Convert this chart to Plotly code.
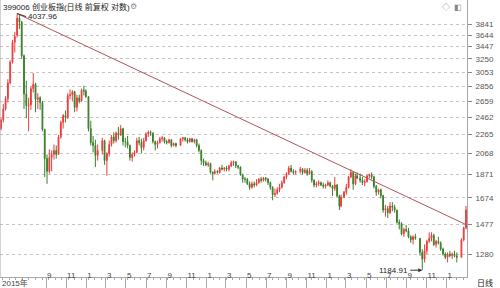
import math
import plotly.graph_objects as go

# ---------------- data (weekly candles) ----------------
dates = [
    "2015-04-17", "2015-04-24",
    "2015-05-01", "2015-05-08", "2015-05-15", "2015-05-22", "2015-05-29",
    "2015-06-05", "2015-06-12", "2015-06-19", "2015-06-26",
    "2015-07-03", "2015-07-10", "2015-07-17", "2015-07-24", "2015-07-31",
    "2015-08-07", "2015-08-14", "2015-08-21", "2015-08-28",
    "2015-09-04", "2015-09-11", "2015-09-18", "2015-09-25",
    "2015-10-02", "2015-10-09", "2015-10-16", "2015-10-23", "2015-10-30",
    "2015-11-06", "2015-11-13", "2015-11-20", "2015-11-27",
    "2015-12-04", "2015-12-11", "2015-12-18", "2015-12-25", "2015-12-31",
    "2016-01-08", "2016-01-15", "2016-01-22", "2016-01-29",
    "2016-02-05", "2016-02-19", "2016-02-26",
    "2016-03-04", "2016-03-11", "2016-03-18", "2016-03-25",
    "2016-04-01", "2016-04-08", "2016-04-15", "2016-04-22", "2016-04-29",
    "2016-05-06", "2016-05-13", "2016-05-20", "2016-05-27",
    "2016-06-03", "2016-06-10", "2016-06-17", "2016-06-24",
    "2016-07-01", "2016-07-08", "2016-07-15", "2016-07-22", "2016-07-29",
    "2016-08-05", "2016-08-12", "2016-08-19", "2016-08-26",
    "2016-09-02", "2016-09-09", "2016-09-16", "2016-09-23", "2016-09-30",
    "2016-10-14", "2016-10-21", "2016-10-28",
    "2016-11-04", "2016-11-11", "2016-11-18", "2016-11-25",
    "2016-12-02", "2016-12-09", "2016-12-16", "2016-12-23", "2016-12-30",
    "2017-01-06", "2017-01-13", "2017-01-20", "2017-01-26",
    "2017-02-03", "2017-02-10", "2017-02-17", "2017-02-24",
    "2017-03-03", "2017-03-10", "2017-03-17", "2017-03-24", "2017-03-31",
    "2017-04-07", "2017-04-14", "2017-04-21", "2017-04-28",
    "2017-05-05", "2017-05-12", "2017-05-19", "2017-05-26",
    "2017-06-02", "2017-06-09", "2017-06-16", "2017-06-23", "2017-06-30",
    "2017-07-07", "2017-07-14", "2017-07-21", "2017-07-28",
    "2017-08-04", "2017-08-11", "2017-08-18", "2017-08-25",
    "2017-09-01", "2017-09-08", "2017-09-15", "2017-09-22", "2017-09-29",
    "2017-10-13", "2017-10-20", "2017-10-27",
    "2017-11-03", "2017-11-10", "2017-11-17", "2017-11-24",
    "2017-12-01", "2017-12-08", "2017-12-15", "2017-12-22", "2017-12-29",
    "2018-01-05", "2018-01-12", "2018-01-19", "2018-01-26",
    "2018-02-02", "2018-02-09", "2018-02-14", "2018-02-23",
    "2018-03-02", "2018-03-09", "2018-03-16", "2018-03-23", "2018-03-30",
    "2018-04-04", "2018-04-13", "2018-04-20", "2018-04-27",
    "2018-05-04", "2018-05-11", "2018-05-18", "2018-05-25",
    "2018-06-01", "2018-06-08", "2018-06-15", "2018-06-22", "2018-06-29",
    "2018-07-06", "2018-07-13", "2018-07-20", "2018-07-27",
    "2018-08-03", "2018-08-10", "2018-08-17", "2018-08-24", "2018-08-31",
    "2018-09-07", "2018-09-14", "2018-09-21", "2018-09-28",
    "2018-10-12", "2018-10-19", "2018-10-26",
    "2018-11-02", "2018-11-09", "2018-11-16", "2018-11-23", "2018-11-30",
    "2018-12-07", "2018-12-14", "2018-12-21", "2018-12-28",
    "2019-01-04", "2019-01-11", "2019-01-18", "2019-01-25",
    "2019-02-01", "2019-02-15", "2019-02-22", "2019-03-01",
]

opens = [
    2330, 2430,
    2560, 2690, 2900, 3200, 3520,
    3640, 3950, 3880, 3300,
    2750, 2600, 2610, 2820, 2880,
    2680, 2700, 2640, 2320,
    2020, 1900, 2030, 2060,
    2100, 2060, 2240, 2400, 2480,
    2460, 2730, 2740, 2780,
    2580, 2700, 2660, 2800, 2790,
    2714, 2330, 2180, 2150,
    2050, 2100, 2200,
    2000, 2070, 2160, 2240,
    2200, 2280, 2260, 2330, 2190,
    2190, 2150, 2030, 2060,
    2080, 2200, 2180, 2130,
    2200, 2270, 2290, 2280, 2190,
    2160, 2180, 2220, 2230,
    2190, 2180, 2210, 2150, 2170,
    2150, 2220, 2230,
    2210, 2190, 2220, 2190,
    2210, 2150, 2100, 2000, 1980,
    1960, 1970, 1890, 1880,
    1900, 1890, 1930, 1920,
    1930, 1920, 1950, 1980, 1990,
    1950, 1940, 1870, 1830,
    1830, 1790, 1760, 1790,
    1780, 1800, 1830, 1820, 1840,
    1830, 1800, 1760, 1700,
    1710, 1740, 1760, 1800,
    1850, 1880, 1930, 1900, 1890,
    1900, 1920, 1890,
    1910, 1880, 1900, 1820,
    1780, 1790, 1800, 1780, 1770,
    1780, 1800, 1770, 1750,
    1780, 1690, 1610, 1680,
    1720, 1760, 1850, 1890, 1790,
    1860, 1840, 1820, 1800,
    1810, 1860, 1870, 1850,
    1770, 1720, 1740, 1690, 1580,
    1590, 1560, 1610, 1600,
    1580, 1490, 1480, 1410, 1440,
    1430, 1390, 1370, 1390,
    1380, 1290, 1250,
    1300, 1360, 1380, 1400, 1340,
    1360, 1350, 1310, 1280,
    1260, 1280, 1270, 1280,
    1270, 1260, 1370, 1450,
]

highs = [
    2450, 2620,
    2720, 2950, 3230, 3560, 3700,
    4037.96, 4010, 3900, 3320,
    2930, 2700, 2850, 3040, 2900,
    2760, 2720, 2660, 2330,
    2060, 2110, 2100, 2160,
    2150, 2260, 2420, 2500, 2540,
    2760, 2810, 2800, 2790,
    2740, 2740, 2820, 2860, 2810,
    2720, 2420, 2250, 2210,
    2160, 2230, 2210,
    2080, 2200, 2260, 2290,
    2300, 2350, 2370, 2340, 2230,
    2250, 2160, 2080, 2100,
    2230, 2240, 2220, 2230,
    2290, 2310, 2310, 2290, 2200,
    2200, 2240, 2250, 2240,
    2210, 2220, 2210, 2180, 2180,
    2230, 2240, 2240,
    2230, 2230, 2230, 2220,
    2220, 2170, 2110, 2020, 2000,
    1990, 1980, 1900, 1920,
    1910, 1940, 1960, 1940,
    1950, 1960, 2000, 2000, 1995,
    1960, 1945, 1880, 1850,
    1840, 1810, 1810, 1810,
    1830, 1840, 1850, 1850, 1850,
    1840, 1810, 1770, 1750,
    1760, 1790, 1820, 1860,
    1890, 1950, 1960, 1920, 1910,
    1940, 1930, 1930,
    1930, 1930, 1910, 1830,
    1810, 1820, 1810, 1800, 1790,
    1820, 1810, 1780, 1850,
    1790, 1700, 1700, 1730,
    1790, 1860, 1920, 1900, 1880,
    1890, 1880, 1850, 1830,
    1870, 1880, 1890, 1860,
    1780, 1750, 1750, 1700, 1620,
    1610, 1640, 1640, 1620,
    1580, 1510, 1490, 1450, 1470,
    1450, 1400, 1400, 1410,
    1380, 1310, 1340,
    1370, 1420, 1420, 1410, 1370,
    1390, 1360, 1320, 1290,
    1290, 1300, 1290, 1300,
    1290, 1380, 1460, 1610,
]

lows = [
    2310, 2400,
    2540, 2640, 2880, 3180, 3350,
    3600, 3750, 3250, 2560,
    2450, 2300, 2550, 2770, 2520,
    2560, 2550, 2300, 1850,
    1790, 1880, 1900, 2010,
    2020, 2060, 2220, 2330, 2400,
    2440, 2680, 2660, 2520,
    2530, 2630, 2650, 2730, 2700,
    2300, 2150, 2080, 1940,
    2000, 2060, 1960,
    1860, 2040, 2140, 2170,
    2180, 2210, 2250, 2150, 2130,
    2120, 2000, 1990, 2040,
    2070, 2150, 2070, 2100,
    2190, 2240, 2250, 2170, 2100,
    2120, 2170, 2190, 2170,
    2160, 2170, 2130, 2140, 2130,
    2150, 2190, 2190,
    2170, 2180, 2180, 2170,
    2130, 2080, 1960, 1950, 1950,
    1940, 1880, 1820, 1870,
    1880, 1880, 1910, 1900,
    1900, 1900, 1940, 1950, 1930,
    1920, 1860, 1800, 1800,
    1780, 1740, 1750, 1760,
    1770, 1790, 1800, 1810, 1810,
    1780, 1740, 1655, 1680,
    1700, 1720, 1750, 1790,
    1830, 1870, 1890, 1870, 1870,
    1880, 1870, 1880,
    1860, 1870, 1800, 1760,
    1760, 1770, 1770, 1750, 1750,
    1770, 1760, 1690, 1730,
    1680, 1580, 1600, 1670,
    1700, 1750, 1840, 1740, 1780,
    1830, 1800, 1780, 1770,
    1800, 1840, 1830, 1750,
    1690, 1700, 1670, 1560, 1530,
    1520, 1550, 1570, 1560,
    1480, 1440, 1400, 1390, 1420,
    1380, 1350, 1340, 1370,
    1270, 1184.91, 1230,
    1280, 1350, 1360, 1330, 1320,
    1340, 1300, 1270, 1250,
    1230, 1260, 1250, 1260,
    1230, 1260, 1360, 1440,
]

closes = [
    2430, 2560,
    2690, 2900, 3200, 3520, 3620,
    3950, 3880, 3300, 2750,
    2600, 2610, 2820, 2880, 2680,
    2700, 2640, 2320, 2020,
    1900, 2030, 2060, 2100,
    2060, 2240, 2400, 2480, 2460,
    2730, 2740, 2780, 2580,
    2700, 2660, 2800, 2790, 2714,
    2330, 2180, 2150, 2050,
    2100, 2200, 2000,
    2070, 2160, 2240, 2200,
    2280, 2260, 2330, 2190, 2190,
    2150, 2030, 2060, 2080,
    2200, 2180, 2130, 2200,
    2270, 2290, 2280, 2190, 2160,
    2180, 2220, 2230, 2190,
    2180, 2210, 2150, 2170, 2150,
    2220, 2230, 2210,
    2190, 2220, 2190, 2210,
    2150, 2100, 2000, 1980, 1960,
    1970, 1890, 1880, 1900,
    1890, 1930, 1920, 1930,
    1920, 1950, 1980, 1990, 1950,
    1940, 1870, 1830, 1830,
    1790, 1760, 1790, 1780,
    1800, 1830, 1820, 1840, 1830,
    1800, 1760, 1700, 1710,
    1740, 1760, 1800, 1850,
    1880, 1930, 1900, 1890, 1900,
    1920, 1890, 1910,
    1880, 1900, 1820, 1780,
    1790, 1800, 1780, 1770, 1780,
    1800, 1770, 1750, 1780,
    1690, 1610, 1680, 1720,
    1760, 1850, 1890, 1790, 1860,
    1840, 1820, 1800, 1810,
    1860, 1870, 1850, 1770,
    1720, 1740, 1690, 1580, 1590,
    1560, 1610, 1600, 1580,
    1490, 1480, 1410, 1440, 1430,
    1390, 1370, 1390, 1380,
    1290, 1250, 1300,
    1360, 1380, 1400, 1340, 1360,
    1350, 1310, 1280, 1260,
    1280, 1270, 1280, 1270,
    1260, 1370, 1450, 1580,
]

# trend line drawn from the 2015 high to the right edge
trend_dates = ["2015-06-05", "2019-03-04"]
trend_values = [4037.96, 1470]

peak_date, peak_value = "2015-06-05", 4037.96
low_date, low_value = "2018-10-19", 1184.91

y_ticks = [1280, 1477, 1674, 1871, 2068, 2265, 2462, 2659, 2856, 3053, 3250, 3447, 3644, 3841]
x_tick_dates = [
    "2015-09-01", "2015-11-01",
    "2016-01-01", "2016-03-01", "2016-05-01", "2016-07-01", "2016-09-01", "2016-11-01",
    "2017-01-01", "2017-03-01", "2017-05-01", "2017-07-01", "2017-09-01", "2017-11-01",
    "2018-01-01", "2018-03-01", "2018-05-01", "2018-07-01", "2018-09-01", "2018-11-01",
    "2019-01-01",
]
x_tick_labels = ["9", "11", "1", "3", "5", "7", "9", "11", "1", "3", "5", "7", "9", "11",
                 "1", "3", "5", "7", "9", "11", "1"]

title_text = "399006 创业板指(日线 前复权 对数)"
first_label = "2015年"
period_label = "日线"

assert len(dates) == len(opens) == len(highs) == len(lows) == len(closes), (
    len(dates), len(opens), len(highs), len(lows), len(closes))

# ---------------- styling ----------------
UP = "#ee3b3b"
DOWN = "#3a7f2a"
AXIS = "#a8a8a8"
FONT = "Liberation Sans, Arial, Noto Sans CJK SC, sans-serif"

fig = go.Figure()
fig.add_trace(go.Candlestick(
    x=dates, open=opens, high=highs, low=lows, close=closes,
    increasing=dict(line=dict(color=UP, width=1), fillcolor=UP),
    decreasing=dict(line=dict(color=DOWN, width=1), fillcolor=DOWN),
    whiskerwidth=0, showlegend=False, hoverinfo="skip",
))
fig.add_trace(go.Scatter(
    x=trend_dates, y=trend_values, mode="lines",
    line=dict(color="#b0545a", width=1), showlegend=False, hoverinfo="skip",
))

fig.update_layout(
    width=500, height=288,
    margin=dict(l=0, r=33, t=0, b=11),
    paper_bgcolor="white", plot_bgcolor="white",
    font=dict(family=FONT, size=8, color="#444"),
    showlegend=False,
)

fig.update_xaxes(
    type="date", range=["2015-04-14", "2019-03-04"],
    rangeslider=dict(visible=False),
    showline=True, linecolor=AXIS, linewidth=1,
    showgrid=False, zeroline=False,
    tickmode="array", tickvals=x_tick_dates, ticktext=x_tick_labels,
    ticks="outside", ticklen=10, tickcolor=AXIS,
    ticklabelposition="outside right", ticklabelstandoff=-10,
    tickfont=dict(size=8, color="#444"),
    minor=dict(ticks="outside", ticklen=2, tickcolor=AXIS,
               dtick=20 * 86400000, tick0="2015-04-22"),
    automargin=False, fixedrange=True,
)

fig.update_yaxes(
    type="log", side="right",
    range=[math.log10(1147), math.log10(4308)],
    tickmode="array", tickvals=y_ticks, ticktext=[str(v) for v in y_ticks],
    ticks="outside", ticklen=4, tickcolor="#888",
    showline=True, linecolor=AXIS, linewidth=1,
    showgrid=True, gridcolor="#c4c4c4", griddash="dot", gridwidth=1,
    zeroline=False, tickfont=dict(size=8, color="#555"),
    ticklabelstandoff=2,
    automargin=False, fixedrange=True,
)

# left frame line
fig.add_shape(type="line", xref="paper", yref="paper", x0=0, x1=0, y0=0, y1=1,
              line=dict(color=AXIS, width=1))

fig.add_annotation(xref="paper", yref="paper", x=0, y=1, xanchor="left", yanchor="top",
                   text=title_text, showarrow=False, xshift=1, yshift=0,
                   font=dict(size=8, color="#222"))
fig.add_annotation(xref="paper", yref="paper", x=128 / 467, y=1, xanchor="left", yanchor="top",
                   text="⚙", showarrow=False, font=dict(size=8, color="#888"))
fig.add_annotation(xref="paper", yref="paper", x=1, y=1, xanchor="right", yanchor="top",
                   text="◇  ◧", showarrow=False, xshift=-3, yshift=-1,
                   font=dict(size=8, color="#888"))
fig.add_annotation(xref="paper", yref="paper", x=0, y=0, xanchor="left", yanchor="top",
                   text=first_label, showarrow=False, xshift=0, yshift=1,
                   font=dict(size=8, color="#444"))
fig.add_annotation(xref="paper", yref="paper", x=1, y=0, xanchor="left", yanchor="top",
                   text=period_label, showarrow=False, xshift=8, yshift=1,
                   font=dict(size=8, color="#222"))

fig.add_annotation(x=peak_date, y=math.log10(peak_value), text=f"{peak_value:.2f}",
                   showarrow=True, ax=9, ay=3, xanchor="left", yanchor="middle",
                   arrowhead=0, arrowwidth=1, arrowcolor="#333",
                   font=dict(size=8, color="#222"))
fig.add_annotation(x=low_date, y=math.log10(low_value), text=f"{low_value:.2f}",
                   showarrow=True, ax=-12, ay=0, xanchor="right", yanchor="middle",
                   arrowhead=2, arrowsize=0.8, arrowwidth=1, arrowcolor="#333",
                   font=dict(size=8, color="#222"))

fig.write_html("out.html")
